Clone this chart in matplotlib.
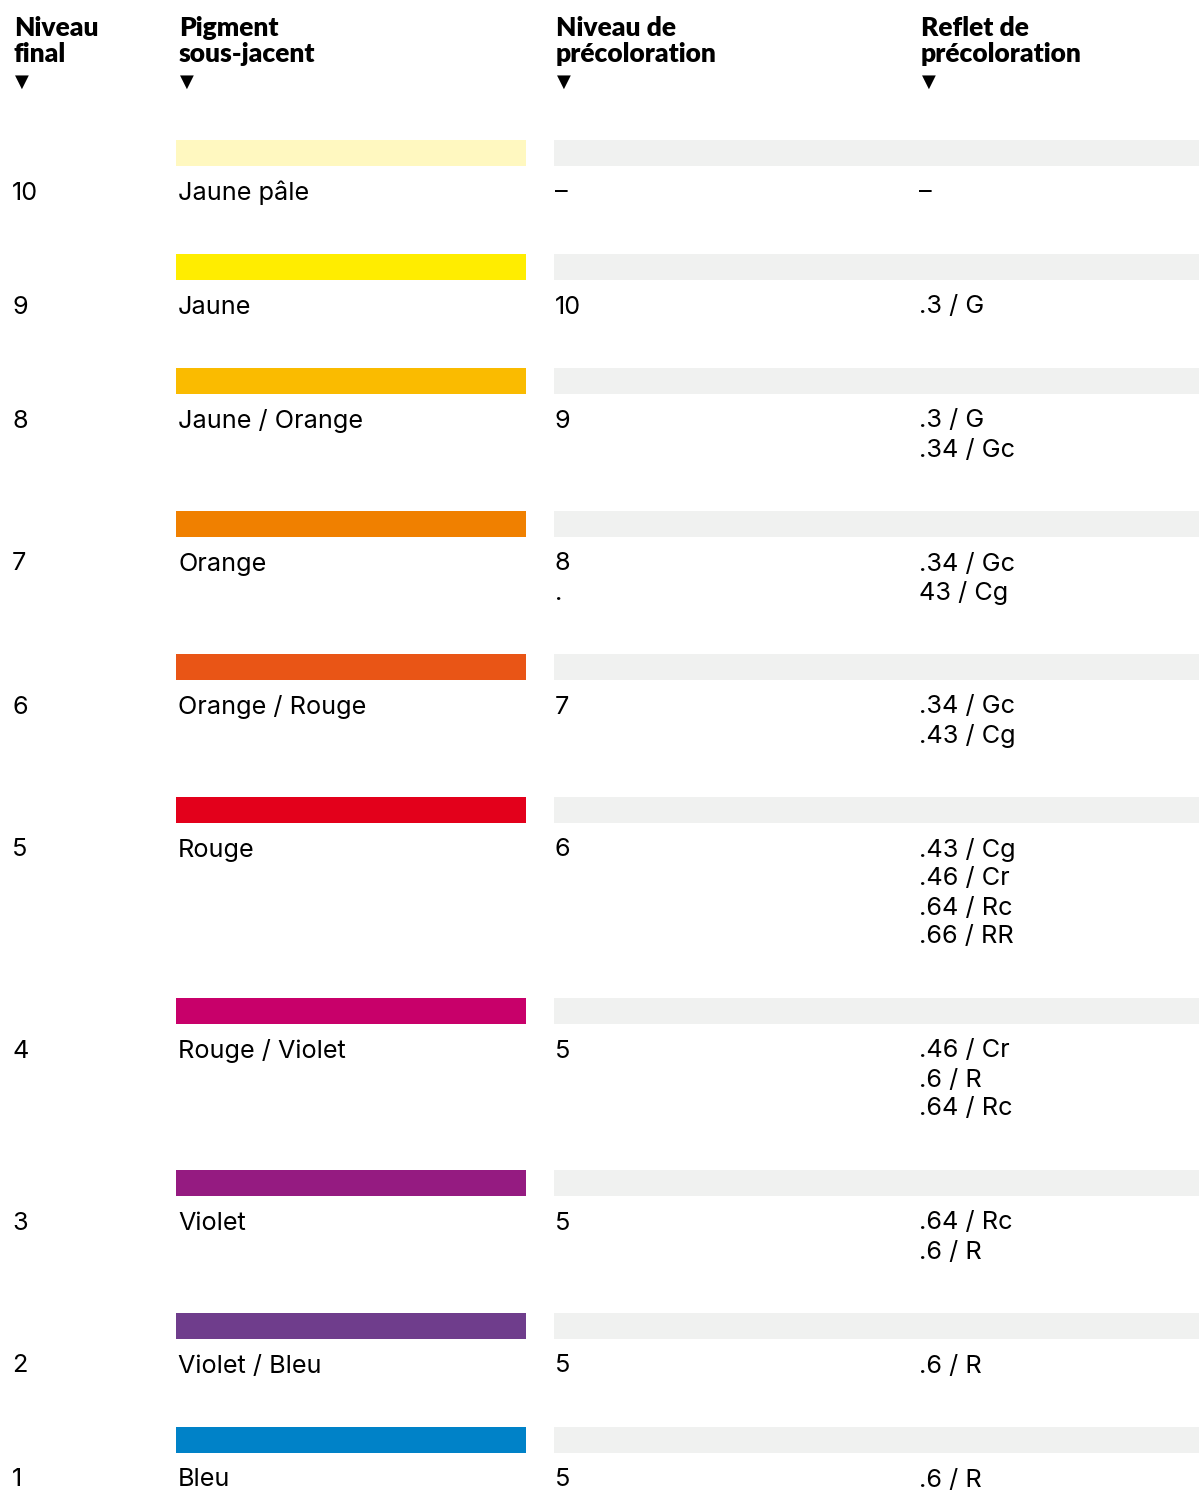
import matplotlib.pyplot as plt
from matplotlib.patches import Rectangle

plt.rcParams.update({"font.family": ["Inter", "DejaVu Sans"]})

# data
niveaux = ["10", "9", "8", "7", "6", "5", "4", "3", "2", "1"]
pigments = ["Jaune pâle", "Jaune", "Jaune / Orange", "Orange", "Orange / Rouge",
            "Rouge", "Rouge / Violet", "Violet", "Violet / Bleu", "Bleu"]
pigment_colors = ["#FFF8C0", "#FFED00", "#FABB00", "#F08000", "#E95516",
                  "#E3001B", "#C8006A", "#951B81", "#6F3D8C", "#0082C8"]
precoloration = ["–", "10", "9", "8\n.", "7", "6", "5", "5", "5", "5"]
reflets = ["–", ".3 / G", ".3 / G\n.34 / Gc", ".34 / Gc\n43 / Cg",
           ".34 / Gc\n.43 / Cg", ".43 / Cg\n.46 / Cr\n.64 / Rc\n.66 / RR",
           ".46 / Cr\n.6 / R\n.64 / Rc", ".64 / Rc\n.6 / R", ".6 / R", ".6 / R"]
headers = ["Niveau\nfinal", "Pigment\nsous-jacent", "Niveau de\nprécoloration",
           "Reflet de\nprécoloration"]

W, H = 1199, 1494
fig = plt.figure(figsize=(W / 100, H / 100), dpi=100)
ax = fig.add_axes([0, 0, 1, 1])
ax.set_xlim(0, W)
ax.set_ylim(H, 0)
ax.axis("off")

col_x = [12, 178, 555, 919]
head_x = [14, 179, 556, 921]
line_h = 29
fs = 18.2

for x, h in zip(head_x, headers):
    ax.text(x, 16, h, fontsize=19, fontweight="heavy", va="top", ha="left",
            family=["Lato", "DejaVu Sans"], linespacing=1.1, color="black")
    ax.text(x + 1, 82, "▼", fontsize=13, va="center", ha="left",
            family="DejaVu Sans", color="black")

y = 140
for i in range(len(niveaux)):
    nlines = reflets[i].count("\n") + 1
    ax.add_patch(Rectangle((176, y), 350, 26, color=pigment_colors[i], lw=0))
    ax.add_patch(Rectangle((554, y), W - 554, 26, color="#F0F1F0", lw=0))
    ty = y + 53
    ax.text(col_x[0], ty, niveaux[i], fontsize=fs, va="center", ha="left")
    ax.text(col_x[1], ty, pigments[i], fontsize=fs, va="center", ha="left")
    for j, s in enumerate(precoloration[i].split("\n")):
        ax.text(col_x[2], ty + j * line_h, s, fontsize=fs, va="center", ha="left")
    for j, s in enumerate(reflets[i].split("\n")):
        ax.text(col_x[3], ty + j * line_h, s, fontsize=fs, va="center", ha="left")
    y += 114 + line_h * (nlines - 1)

fig.savefig("out.png", dpi=100)
